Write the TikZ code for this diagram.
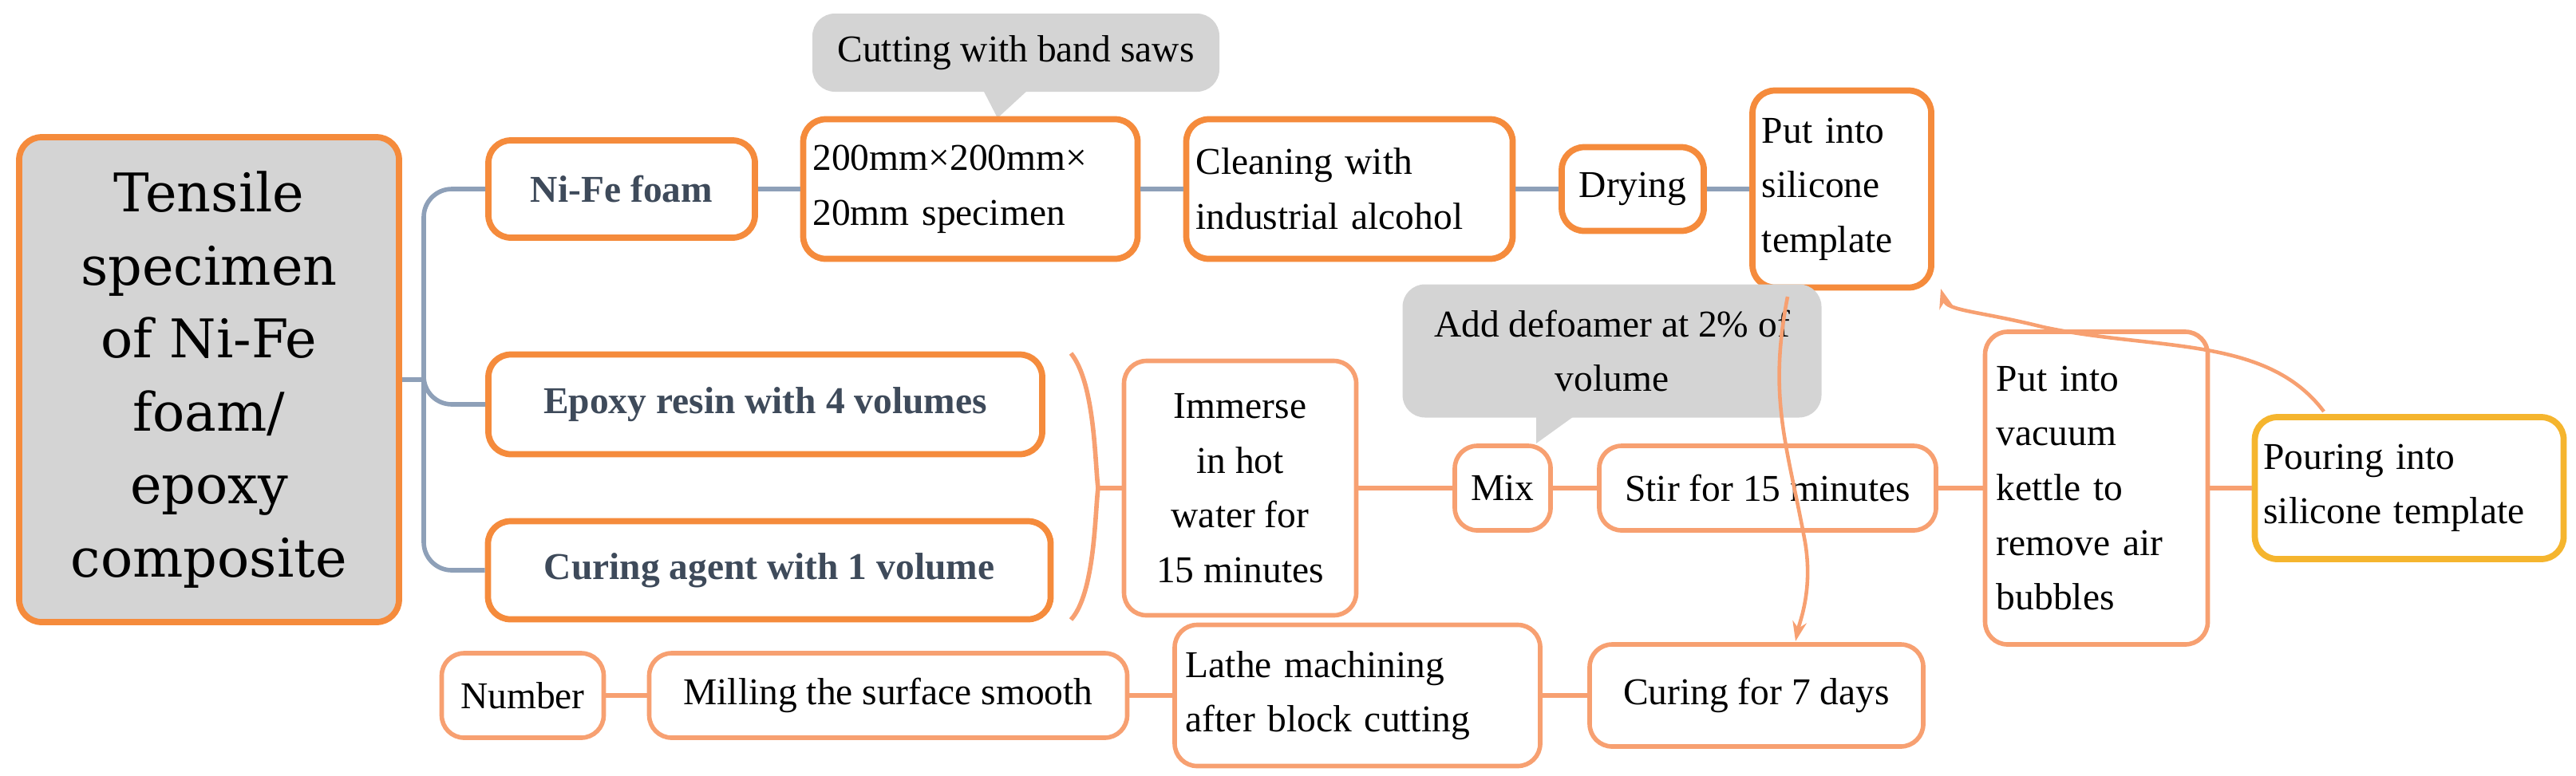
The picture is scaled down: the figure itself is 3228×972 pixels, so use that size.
\documentclass[tikz,border=0pt]{standalone}
\usepackage{fontspec}
\usetikzlibrary{arrows.meta}
\setmainfont{Liberation Serif}
\newfontfamily\mainboxfont{DejaVu Serif}
\begin{document}
\begin{tikzpicture}[x=0.01cm,y=-0.01cm,
  w/.style={minimum width=#1*0.01cm},
  h/.style={minimum height=#1*0.01cm},
  box/.style={draw=orgC,line width=2.2pt,rounded corners=8pt,fill=white,inner sep=0pt,font=\fontsize{13.5}{19.5}\selectfont,align=left},
  lbox/.style={box,draw=orgL,line width=1.6pt},
  bbox/.style={box,font=\fontsize{13.5}{19.5}\selectfont\bfseries,text=slate},
  call/.style={fill=grayC,rounded corners=8pt,inner sep=0pt,font=\fontsize{13.5}{19.5}\selectfont,align=center},
  gl/.style={draw=bluegray,line width=1.6pt},
  ol/.style={draw=orgL,line width=1.6pt},
  arr/.style={draw=orgL,line width=1.3pt,-{Stealth[length=7pt,width=5pt]}}]
\definecolor{orgC}{HTML}{F58B3C}
\definecolor{orgL}{HTML}{F7A071}
\definecolor{yelC}{HTML}{F5B52E}
\definecolor{grayC}{HTML}{D4D4D4}
\definecolor{slate}{HTML}{3E4A5A}
\definecolor{bluegray}{HTML}{8EA0B8}
\useasboundingbox (0,0) rectangle (3228,972);
% main
\node[box,fill=grayC,w=476,h=608,align=center,font=\mainboxfont\fontsize{19}{26}\selectfont] (main) at (262,476) {Tensile\\specimen\\of Ni-Fe\\foam/\\epoxy\\composite};
\node[bbox,w=334,h=122,align=center] (nife) at (779,237) {Ni-Fe foam};
\node[bbox,w=694,h=125,align=center] (epoxy) at (959,507) {Epoxy resin with 4 volumes};
\node[bbox,w=705,h=123,align=center] (curag) at (964,715) {Curing agent with 1 volume};
% callout 1
\node[call,w=510,h=98] (cut) at (1273,66) {Cutting with band saws};
\fill[grayC] (1232,113) -- (1288,113) -- (1250,148) -- cycle;
\node[box,w=419,h=175,text width=3.95cm] (spec) at (1216,237) {200mm×200mm×\\20mm specimen};
\node[box,w=409,h=175,text width=3.85cm] (clean) at (1691,237) {Cleaning with\\industrial alcohol};
\node[box,w=178,h=105,align=center] (dry) at (2046,237) {Drying};
\node[box,w=224,h=247,text width=2.0cm] (put) at (2308,237) {Put into\\silicone\\template};
% callout 2
\node[call,w=525,h=167] (def) at (2020,440) {Add defoamer at 2\% of\\volume};
\fill[grayC] (1925,520) -- (1975,520) -- (1925,556) -- cycle;
\node[lbox,w=291,h=319,align=center] (imm) at (1554,612) {Immerse\\in hot\\water for\\15 minutes};
\node[lbox,w=120,h=106,align=center] (mix) at (1883,612) {Mix};
\node[lbox,w=422,h=106,align=center] (stir) at (2215,612) {Stir for 15 minutes};
\node[lbox,w=279,h=392,text width=2.5cm] (vac) at (2627,612) {Put into\\vacuum\\kettle to\\remove air\\bubbles};
\node[box,draw=yelC,w=387,h=178,text width=3.65cm] (pour) at (3019,612) {Pouring into\\silicone template};
% bottom row
\node[lbox,w=203,h=106,align=center] (num) at (655,872) {Number};
\node[lbox,w=599,h=106,align=center] (mill) at (1113,872) {Milling the surface smooth};
\node[lbox,w=458,h=177,text width=4.3cm] (lathe) at (1701,872) {Lathe machining\\after block cutting};
\node[lbox,w=418,h=128,align=center] (cur7) at (2201,872) {Curing for 7 days};
% gray connectors
\coordinate (bus) at (531,476);
\draw[gl] (main.east) -- (bus);
\draw[gl,rounded corners=10pt] (nife.west) -| (bus) |- (curag.west);
\draw[gl,rounded corners=10pt] (bus) |- (epoxy.west);
\draw[gl] (nife) -- (spec) (spec) -- (clean) (clean) -- (dry) (dry) -- (put);
% brace
\coordinate (brt) at (1376,612);
\draw[ol] (1342,443) .. controls (1372,480) and (1372,580) .. (brt) .. controls (1372,644) and (1372,744) .. (1342,777);
\draw[ol] (brt) -- (imm.west);
\draw[ol] (imm) -- (mix) (mix) -- (stir) (stir) -- (vac) (vac) -- (pour);
\draw[ol] (num) -- (mill) (mill) -- (lathe) (lathe) -- (cur7);
% arrows
\coordinate (a1s) at (2912,516);
\coordinate (a1e) at (2432,362);
\coordinate (a2s) at (2240,372);
\coordinate (a2e) at (2250,804);
\draw[arr] (a1s) .. controls (2840,420) and (2700,440) .. (2560,410) .. controls (2480,390) and (2440,390) .. (a1e);
\draw[arr] (a2s) .. controls (2215,500) and (2240,560) .. (2262,680) .. controls (2272,740) and (2255,780) .. (a2e);
\end{tikzpicture}
\end{document}
